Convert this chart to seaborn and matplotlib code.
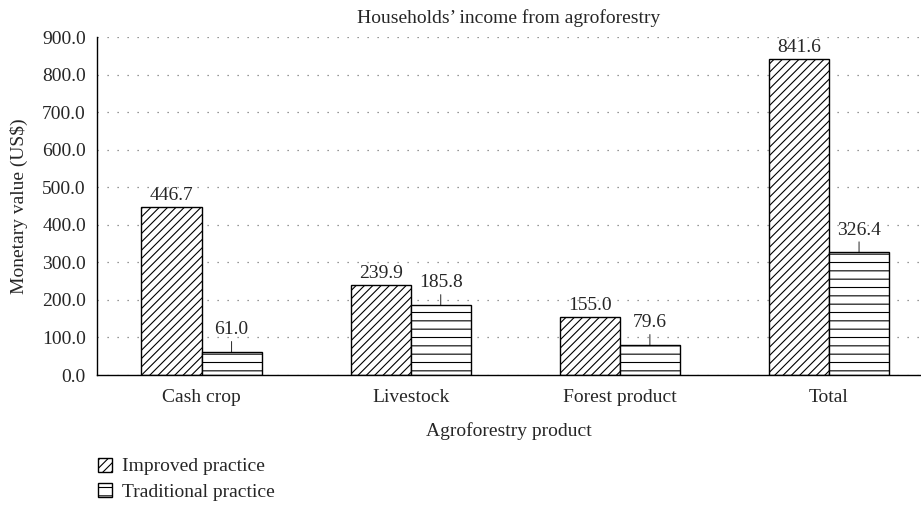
import matplotlib
matplotlib.use("Agg")
import matplotlib.pyplot as plt
from matplotlib.patches import Patch
import seaborn as sns
import pandas as pd

products = ["Cash crop", "Livestock", "Forest product", "Total"]
improved = [446.7, 239.9, 155.0, 841.6]
traditional = [61.0, 185.8, 79.6, 326.4]
practices = ["Improved practice", "Traditional practice"]

df = pd.DataFrame({
    "product": products * 2,
    "value": improved + traditional,
    "practice": [practices[0]] * len(products) + [practices[1]] * len(products),
})

sns.set_style("white")
plt.rcParams["font.family"] = ["Liberation Serif", "DejaVu Serif"]
plt.rcParams["hatch.linewidth"] = 0.8
fs = 14

fig = plt.figure(figsize=(9.21, 5.13), dpi=100)
ax = fig.add_axes([97 / 921, 1 - 375 / 513, 1 - 97 / 921, 338 / 513])

sns.barplot(data=df, x="product", y="value", hue="practice", order=products,
            hue_order=practices, width=0.575, gap=0, ax=ax, legend=False)

hatches = ["////", "--"]
for cont, h in zip(ax.containers, hatches):
    for bar in cont:
        bar.set_facecolor("white")
        bar.set_edgecolor("black")
        bar.set_linewidth(1.0)
        bar.set_hatch(h)

# value labels
for bar in ax.containers[0]:
    ax.annotate(f"{bar.get_height():.1f}", (bar.get_x() + bar.get_width() / 2, bar.get_height()),
                xytext=(0, 2), textcoords="offset points", ha="center", va="bottom", fontsize=fs)
for bar in ax.containers[1]:
    x = bar.get_x() + bar.get_width() / 2
    ax.annotate(f"{bar.get_height():.1f}", (x, bar.get_height()),
                xytext=(0, 10), textcoords="offset points", ha="center", va="bottom", fontsize=fs,
                arrowprops=dict(arrowstyle="-", color="black", lw=0.6, shrinkA=0, shrinkB=0))

ax.set_ylim(0, 900)
ax.set_xlim(-0.5, 3.44)
ax.set_yticks(range(0, 901, 100))
ax.set_yticklabels([f"{v:.1f}" for v in range(0, 901, 100)], fontsize=fs)
ax.tick_params(axis="x", labelsize=fs, length=0, pad=10)
ax.tick_params(axis="y", length=0, pad=8)
ax.yaxis.grid(True, linestyle=(0, (1, 7)), color="#777777", linewidth=0.9)
ax.set_axisbelow(True)

for s in ["top", "right"]:
    ax.spines[s].set_visible(False)
for s in ["left", "bottom"]:
    ax.spines[s].set_color("black")
    ax.spines[s].set_linewidth(1.0)

ax.set_title("Households\u2019 income from agroforestry", fontsize=fs, pad=10)
ax.set_xlabel("Agroforestry product", fontsize=fs, labelpad=12)
ax.set_ylabel("Monetary value (US$)", fontsize=fs, labelpad=10)

handles = [Patch(facecolor="white", edgecolor="black", hatch="////", label=practices[0]),
           Patch(facecolor="white", edgecolor="black", hatch="--", label=practices[1])]
fig.legend(handles=handles, loc="upper left", bbox_to_anchor=(80 / 921, 1 - 440 / 513),
           frameon=False, fontsize=fs, handlelength=0.75, handleheight=0.75,
           handletextpad=0.5, labelspacing=0.4)

fig.savefig("out.png", dpi=100)
